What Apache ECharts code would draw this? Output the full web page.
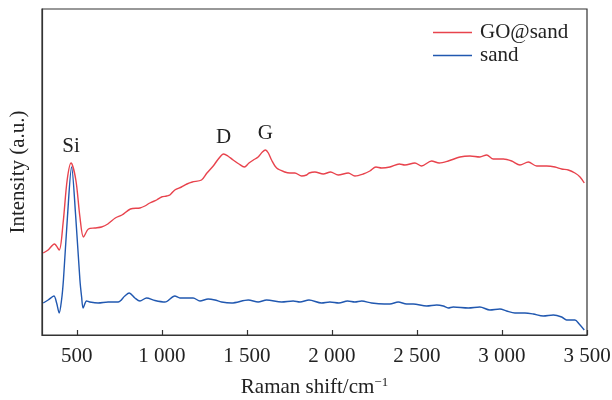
<!DOCTYPE html>
<html>
<head>
<meta charset="utf-8">
<title>Raman spectra</title>
<script src="https://cdn.jsdelivr.net/npm/echarts@6/dist/echarts.min.js"></script>
<style>
  html, body { margin: 0; padding: 0; background: #ffffff; }
  #chart { width: 612px; height: 400px; }
</style>
</head>
<body>
<div id="chart"></div>
<script>
// Raman shift (cm^-1) and intensity (a.u.) for GO@sand
const goSandShift = [302, 331, 368, 396, 419, 443, 466, 494, 518, 539, 568, 606, 645, 682, 726, 765, 815, 871, 900, 929, 969, 998, 1028, 1047, 1076, 1115, 1147, 1179, 1233, 1265, 1302, 1332, 1363, 1388, 1419, 1453, 1485, 1512, 1538, 1566, 1591, 1609, 1626, 1645, 1675, 1723, 1753, 1782, 1822, 1851, 1866, 1900, 1949, 1992, 2037, 2096, 2135, 2184, 2223, 2259, 2292, 2341, 2396, 2429, 2488, 2527, 2586, 2631, 2684, 2753, 2812, 2870, 2910, 2949, 3008, 3057, 3106, 3155, 3204, 3263, 3312, 3351, 3390, 3429, 3459, 3484];
const goSandIntensity = [82, 85, 91, 85, 112, 155, 172, 155, 118, 98, 106, 107, 108, 111, 117, 120, 126, 127, 129, 132, 135, 138, 139, 140, 145, 148, 151, 153, 155, 162, 169, 176, 181, 179, 175, 171, 168, 172, 175, 178, 183, 185, 182, 175, 167, 163, 162, 162, 159, 160, 162, 163, 161, 163, 160, 162, 159, 161, 164, 168, 167, 168, 171, 170, 172, 169, 174, 172, 174, 178, 179, 178, 180, 176, 176, 174, 170, 173, 169, 169, 168, 166, 165, 162, 158, 152];

// Raman shift (cm^-1) and intensity (a.u.) for bare sand
const sandShift = [302, 331, 365, 381, 396, 410, 421, 445, 469, 493, 518, 528, 537, 557, 576, 625, 684, 743, 782, 808, 841, 871, 910, 959, 1018, 1076, 1106, 1161, 1184, 1224, 1272, 1312, 1351, 1410, 1508, 1566, 1616, 1704, 1772, 1812, 1865, 1939, 1988, 2041, 2092, 2135, 2175, 2233, 2308, 2341, 2390, 2439, 2478, 2557, 2616, 2655, 2684, 2713, 2802, 2870, 2929, 2988, 3027, 3076, 3135, 3184, 3243, 3302, 3351, 3380, 3429, 3454, 3484];
const sandIntensity = [32, 35, 39, 32, 22, 35, 55, 119, 168, 119, 55, 38, 27, 34, 33, 32, 33, 33, 39, 42, 37, 34, 37, 34.5, 33, 39, 37, 37, 37, 34, 36, 35, 33, 32, 35, 33, 35, 33, 34, 33, 35, 32, 33, 32, 34, 33, 34, 32, 31, 31, 33, 31, 31, 29, 30, 29, 27, 28, 27, 28, 25, 26, 24, 22, 22, 21, 19, 20, 18, 15, 15, 11, 5];

// Peak annotations: label, Raman shift, intensity
const peakNames = ['Si', 'D', 'G'];
const peakShift = [466, 1363, 1609];
const peakIntensity = [172, 181, 185];

// Axis range and tick positions
const shiftMin = 295;
const shiftMax = 3500;
const shiftTicks = [500, 1000, 1500, 2000, 2500, 3000, 3500];

const seriesNames = ['GO@sand', 'sand'];
const seriesColors = ['#e8434d', '#2158b0'];

const pair = (xs, ys) => xs.map((x, i) => [x, ys[i]]);
const fmtTick = v => {
  const s = String(v);
  return s.length > 3 ? s.slice(0, s.length - 3) + ' ' + s.slice(-3) : s;
};

const serif = '"Liberation Serif", "Times New Roman", serif';
const fontSize = 21;
const chart = echarts.init(document.getElementById('chart'), null, { renderer: 'canvas' });

chart.setOption({
  animation: false,
  backgroundColor: '#ffffff',
  textStyle: { fontFamily: serif },
  grid: {
    left: 42, right: 25, top: 9, bottom: 65,
    outerBoundsMode: 'none',
    containLabel: false,
    show: true, borderColor: '#333', borderWidth: 1.2, backgroundColor: 'transparent'
  },
  legend: {
    orient: 'vertical',
    left: 433, top: 22, padding: 0,
    itemWidth: 39, itemHeight: 12, itemGap: 2,
    icon: 'path://M0,0 L40,0 L40,1.6 L0,1.6 Z',
    textStyle: { fontFamily: serif, fontSize: fontSize, color: '#222', padding: [0, 0, 0, 3] },
    data: seriesNames
  },
  xAxis: {
    type: 'value',
    min: shiftMin, max: shiftMax,
    name: 'Raman shift/cm{sup|−1}',
    nameLocation: 'middle',
    nameGap: 41,
    nameTextStyle: {
      fontFamily: serif, fontSize: fontSize, color: '#222',
      rich: { sup: { fontFamily: serif, fontSize: 13, color: '#222', verticalAlign: 'top', padding: [0, 0, 9, 0] } }
    },
    axisLine: { show: true, lineStyle: { color: '#333', width: 1.2 } },
    axisTick: { show: true, inside: true, length: 5, customValues: shiftTicks, lineStyle: { color: '#333', width: 1.2 } },
    axisLabel: {
      customValues: shiftTicks, formatter: fmtTick, margin: 11,
      fontFamily: serif, fontSize: fontSize, color: '#222', showMaxLabel: true
    },
    splitLine: { show: false }
  },
  yAxis: {
    type: 'value',
    min: 0, max: 326,
    name: 'Intensity (a.u.)',
    nameLocation: 'middle',
    nameGap: 13,
    nameTextStyle: { fontFamily: serif, fontSize: fontSize, color: '#222' },
    axisLine: { show: true, lineStyle: { color: '#333', width: 1.2 } },
    axisTick: { show: false },
    axisLabel: { show: false },
    splitLine: { show: false }
  },
  series: [
    {
      name: seriesNames[0],
      type: 'line',
      data: pair(goSandShift, goSandIntensity),
      smooth: 0.3,
      symbol: 'none',
      lineStyle: { color: seriesColors[0], width: 1.4 },
      itemStyle: { color: seriesColors[0] },
      markPoint: {
        symbol: 'circle', symbolSize: 0,
        label: {
          show: true, position: 'top', distance: 6,
          fontFamily: serif, fontSize: fontSize, color: '#222',
          formatter: p => p.name
        },
        data: peakNames.map((n, i) => ({ name: n, coord: [peakShift[i], peakIntensity[i]] }))
      },
      z: 3
    },
    {
      name: seriesNames[1],
      type: 'line',
      data: pair(sandShift, sandIntensity),
      smooth: 0.3,
      symbol: 'none',
      lineStyle: { color: seriesColors[1], width: 1.4 },
      itemStyle: { color: seriesColors[1] },
      z: 2
    }
  ]
});
</script>
</body>
</html>
